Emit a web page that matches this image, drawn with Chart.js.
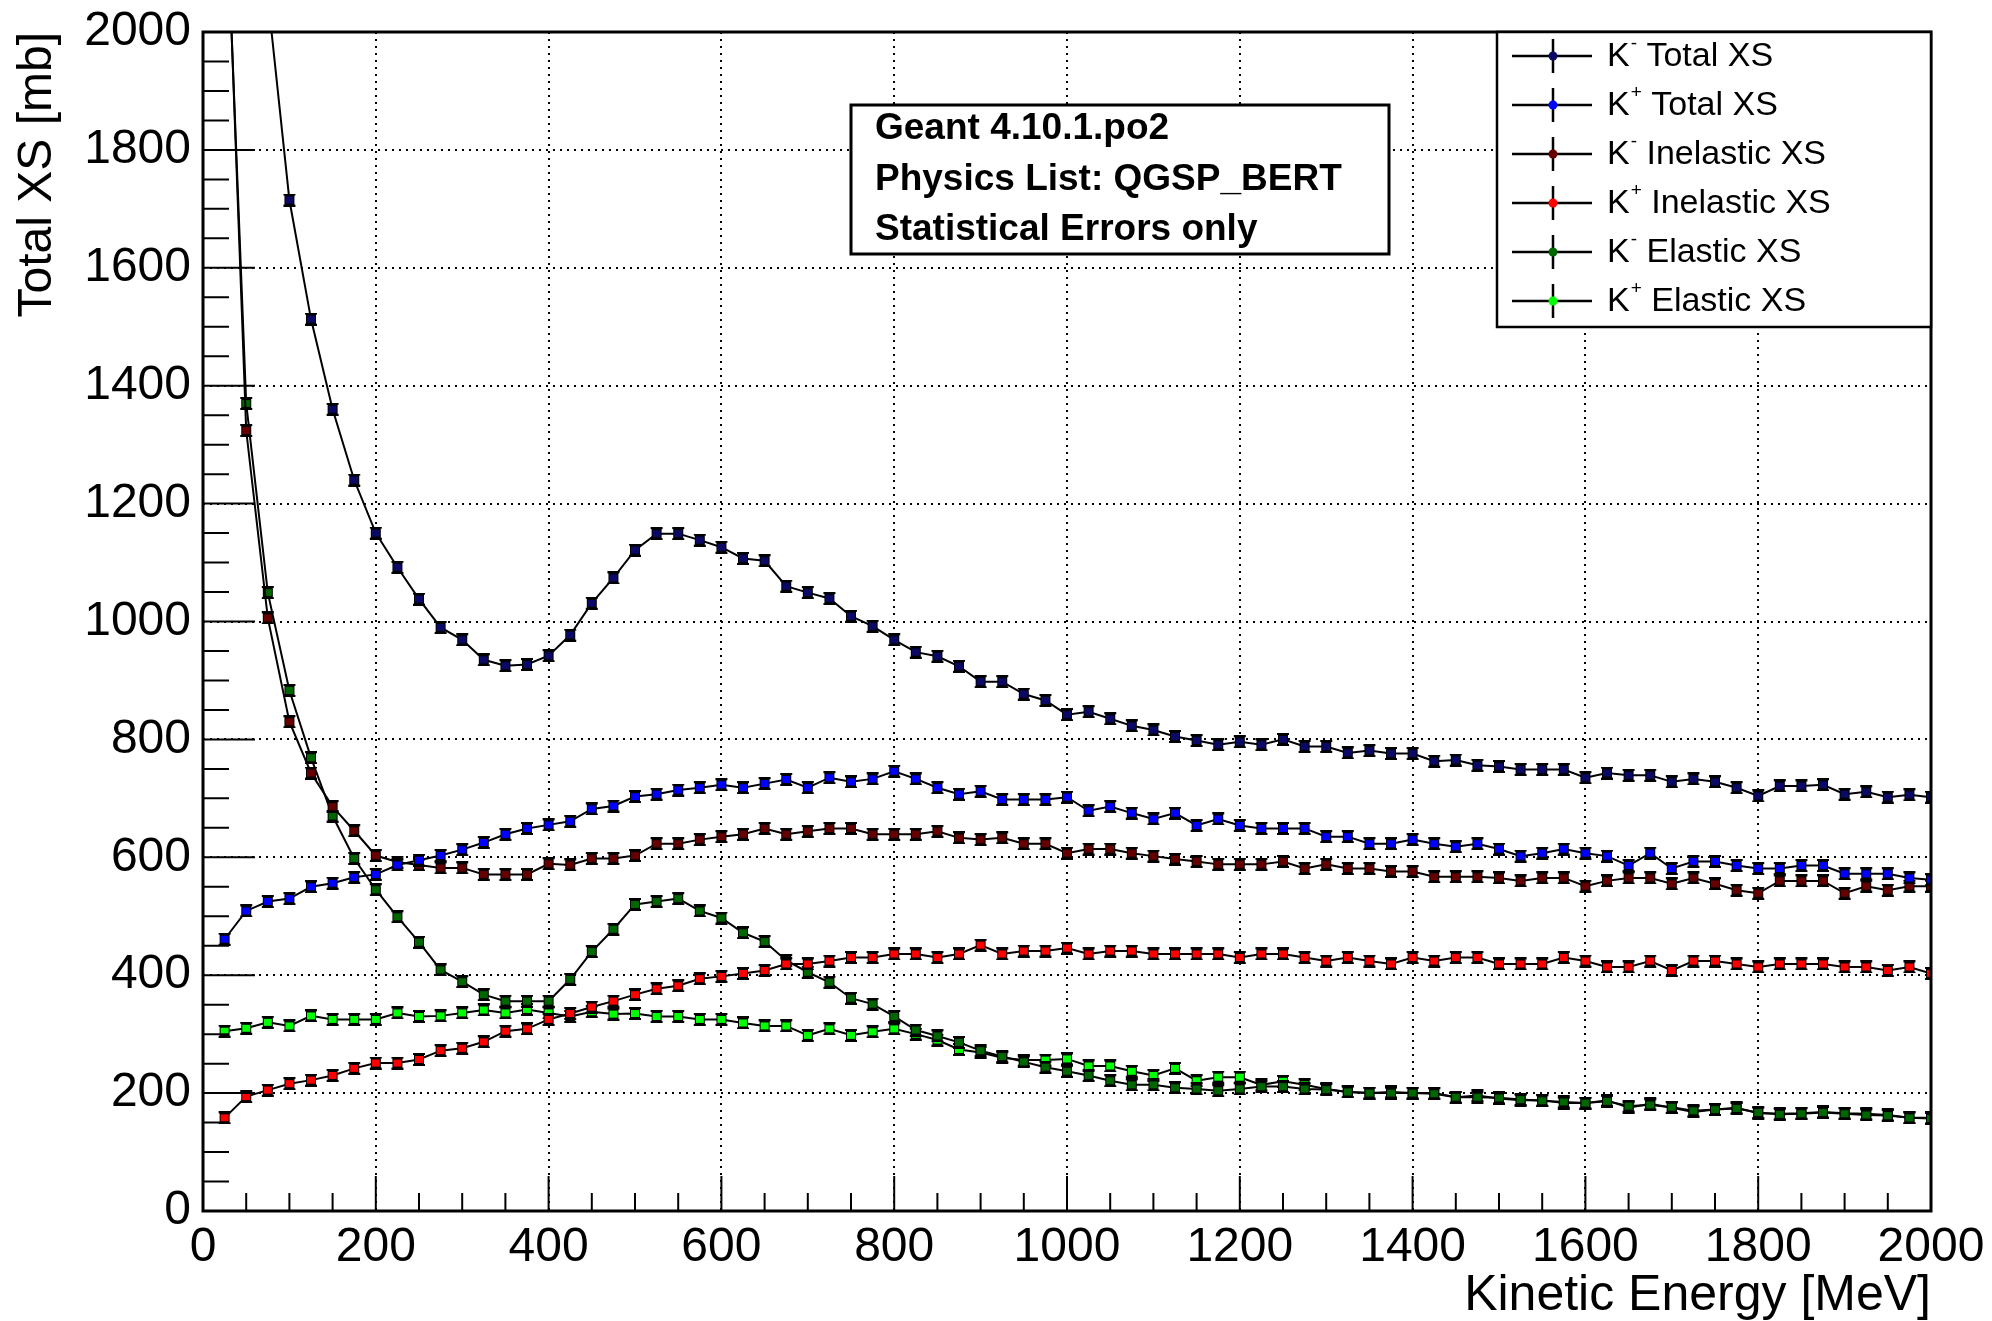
<!DOCTYPE html>
<html lang="en">
<head>
  <meta charset="UTF-8">
  <title>Kaon cross sections - Geant 4.10.1.p02</title>
  <script src="https://cdn.jsdelivr.net/npm/chart.js"></script>
  <style>
    body {
      margin: 0;
      padding: 0;
      background-color: #fff;
    }
    #xsChart {
      display: block;
    }
  </style>
</head>
<body>
  <canvas id="xsChart" width="1992" height="1321"></canvas>

  <script>
    // Kinetic energy bins [MeV]
    const energy = [
      25, 50, 75, 100, 125, 150, 175, 200, 225, 250,
      275, 300, 325, 350, 375, 400, 425, 450, 475, 500,
      525, 550, 575, 600, 625, 650, 675, 700, 725, 750,
      775, 800, 825, 850, 875, 900, 925, 950, 975, 1000,
      1025, 1050, 1075, 1100, 1125, 1150, 1175, 1200, 1225, 1250,
      1275, 1300, 1325, 1350, 1375, 1400, 1425, 1450, 1475, 1500,
      1525, 1550, 1575, 1600, 1625, 1650, 1675, 1700, 1725, 1750,
      1775, 1800, 1825, 1850, 1875, 1900, 1925, 1950, 1975, 2000
    ];

    // Cross sections [mb]
    const kmTotal = [
      3300, 2600, 2060, 1715, 1513, 1360, 1240, 1150, 1092, 1038,
      990, 969, 935, 925, 927, 942, 977, 1031, 1074, 1121,
      1149, 1149, 1138, 1126, 1107, 1103, 1060, 1049, 1039, 1009,
      992, 969, 948, 941, 924, 898, 898, 877, 866, 842,
      847, 835, 823, 816, 805, 798, 791, 796, 791, 800,
      788, 788, 777, 781, 776, 776, 763, 765, 756, 754,
      749, 749, 749, 735, 743, 739, 739, 728, 733, 728,
      718, 704, 721, 721, 723, 707, 711, 702, 706, 702
    ];
    const kpTotal = [
      461, 509, 525, 530, 550, 556, 566, 571, 587, 595,
      603, 613, 625, 639, 649, 655, 661, 682, 687, 703,
      707, 714, 718, 723, 718, 725, 732, 718, 735, 728,
      733, 746, 733, 718, 707, 712, 698, 698, 698, 702,
      679, 686, 675, 665, 675, 654, 665, 654, 649, 649,
      649, 635, 635, 623, 623, 630, 623, 618, 623, 614,
      602, 607, 614, 607, 602, 586, 607, 581, 593, 593,
      586, 581, 581, 586, 586, 572, 572, 572, 565, 562
    ];
    const kmInel = [
      2320, 1324, 1006, 830, 743, 686, 645, 603, 592, 587,
      582, 582, 571, 571, 571, 589, 587, 598, 598, 603,
      623, 623, 630, 635, 639, 649, 639, 644, 649, 649,
      639, 639, 639, 644, 633, 630, 633, 623, 623, 607,
      614, 614, 607, 602, 597, 593, 588, 588, 588, 593,
      581, 588, 581, 581, 576, 576, 567, 567, 567, 565,
      560, 565, 565, 551, 560, 565, 565, 555, 565, 555,
      544, 539, 560, 560, 560, 539, 551, 544, 551, 551
    ];
    const kpInel = [
      158, 194, 205, 216, 222, 230, 242, 251, 251, 257,
      272, 276, 287, 305, 309, 325, 335, 346, 356, 367,
      377, 382, 394, 398, 403, 408, 419, 419, 424, 430,
      430, 436, 436, 430, 436, 451, 436, 441, 441, 446,
      436, 441, 441, 436, 436, 436, 436, 430, 436, 436,
      430, 424, 430, 424, 419, 430, 424, 430, 430, 419,
      419, 419, 430, 424, 414, 414, 424, 408, 424, 424,
      419, 414, 419, 419, 419, 414, 414, 408, 414, 403
    ];
    const kmEl = [
      2300, 1370, 1049, 883, 769, 670, 598, 545, 499, 456,
      409, 389, 367, 356, 356, 356, 393, 440, 478, 520,
      525, 530, 509, 497, 472, 457, 425, 405, 388, 361,
      351, 330, 307, 297, 286, 272, 262, 253, 244, 237,
      230, 221, 214, 214, 209, 207, 204, 207, 211, 211,
      207, 206, 202, 200, 200, 200, 199, 193, 193, 192,
      189, 187, 185, 183, 186, 178, 180, 176, 170, 172,
      174, 167, 164, 165, 167, 165, 163, 162, 158, 157
    ];
    const kpEl = [
      305, 310, 320, 314, 331, 325, 325, 325, 336, 330,
      331, 336, 341, 336, 342, 336, 330, 338, 334, 335,
      330, 330, 325, 325, 319, 314, 314, 298, 309, 298,
      304, 309, 300, 290, 274, 269, 260, 256, 256, 258,
      246, 246, 237, 230, 242, 221, 227, 227, 214, 220,
      214, 207, 202, 200, 202, 200, 200, 193, 196, 191,
      188, 188, 183, 183, 188, 175, 182, 175, 168, 172,
      175, 166, 165, 166, 168, 166, 165, 163, 158, 158
    ];

    const seriesNames = ['K⁻ Total XS', 'K⁺ Total XS', 'K⁻ Inelastic XS', 'K⁺ Inelastic XS', 'K⁻ Elastic XS', 'K⁺ Elastic XS'];
    const seriesValues = [kmTotal, kpTotal, kmInel, kpInel, kmEl, kpEl];
    const seriesColors = ['#0a0a66', '#0000ff', '#660000', '#ff0000', '#006600', '#00ff00'];
    const infoLines = ['Geant 4.10.1.po2', 'Physics List: QGSP_BERT', 'Statistical Errors only'];

    const FONT = "'Liberation Sans', Arial, Helvetica, sans-serif";
    Chart.defaults.font.family = FONT;
    Chart.defaults.color = '#000';

    // square marker with small error-bar caps, ROOT style
    function makeMarker(color) {
      const c = document.createElement('canvas');
      c.width = 14;
      c.height = 13;
      const g = c.getContext('2d');
      g.fillStyle = '#000';
      g.fillRect(1, 0, 12, 2);
      g.fillRect(1, 11, 12, 2);
      g.fillRect(2, 2, 10, 9);
      g.fillStyle = color;
      g.fillRect(3, 3, 8, 7);
      return c;
    }

    const datasets = seriesNames.map((name, i) => ({
      label: name,
      data: energy.map((e, j) => ({ x: e, y: seriesValues[i][j] })),
      borderColor: '#000',
      borderWidth: 2,
      pointStyle: makeMarker(seriesColors[i]),
      pointRadius: 6,
      markerColor: seriesColors[i],
      tension: 0
    }));

    // inner ticks + frame, ROOT style
    const frameTicks = {
      id: 'frameTicks',
      afterDatasetsDraw(chart) {
        const { ctx, chartArea: a, scales: { x, y } } = chart;
        ctx.save();
        ctx.strokeStyle = '#000';
        ctx.lineWidth = 2;
        ctx.beginPath();
        y.ticks.forEach(t => {
          const py = y.getPixelForValue(t.value);
          const len = t.value % 200 === 0 ? 52 : 26;
          ctx.moveTo(a.left, py);
          ctx.lineTo(a.left + len, py);
        });
        x.ticks.forEach(t => {
          const px = x.getPixelForValue(t.value);
          const len = t.value % 200 === 0 ? 35 : 18;
          ctx.moveTo(px, a.bottom);
          ctx.lineTo(px, a.bottom - len);
        });
        ctx.stroke();
        ctx.lineWidth = 3;
        ctx.strokeRect(a.left, a.top, a.right - a.left, a.bottom - a.top);
        ctx.restore();
      }
    };

    // legend box and info text box
    const boxes = {
      id: 'boxes',
      afterDatasetsDraw(chart) {
        const { ctx, chartArea: a } = chart;
        ctx.save();

        // info box
        const bx = a.left + 648, by = a.top + 73, bw = 538, bh = 149;
        ctx.fillStyle = '#fff';
        ctx.fillRect(bx, by, bw, bh);
        ctx.strokeStyle = '#000';
        ctx.lineWidth = 3;
        ctx.strokeRect(bx, by, bw, bh);
        ctx.fillStyle = '#000';
        ctx.font = 'bold 37px ' + FONT;
        ctx.textBaseline = 'middle';
        infoLines.forEach((t, i) => ctx.fillText(t, bx + 24, by + 24 + i * 50.5));

        // legend
        const lw = 434, lh = 295;
        const lx = a.right - lw, ly = a.top;
        ctx.fillStyle = '#fff';
        ctx.fillRect(lx, ly, lw, lh);
        ctx.lineWidth = 2.5;
        ctx.strokeRect(lx, ly, lw, lh);
        chart.data.datasets.forEach((ds, i) => {
          const cy = ly + 24 + i * 49;
          const sx = lx + 56;
          ctx.strokeStyle = '#000';
          ctx.lineWidth = 2.5;
          ctx.beginPath();
          ctx.moveTo(lx + 15, cy);
          ctx.lineTo(lx + 95, cy);
          ctx.moveTo(sx, cy - 17);
          ctx.lineTo(sx, cy + 17);
          ctx.stroke();
          ctx.fillStyle = ds.markerColor;
          ctx.beginPath();
          ctx.arc(sx, cy, 4.5, 0, Math.PI * 2);
          ctx.fill();

          // "K" + superscript sign + rest
          const sign = ds.label.charAt(1) === '⁻' ? '-' : '+';
          const rest = ds.label.slice(2);
          ctx.fillStyle = '#000';
          ctx.textBaseline = 'middle';
          ctx.font = '34px ' + FONT;
          let tx = lx + 110;
          ctx.fillText('K', tx, cy + 1);
          tx += ctx.measureText('K').width + 1;
          ctx.font = '19px ' + FONT;
          ctx.fillText(sign, tx, cy - 12);
          tx += ctx.measureText(sign).width;
          ctx.font = '34px ' + FONT;
          ctx.fillText(rest, tx, cy + 1);
        });
        ctx.restore();
      }
    };

    const majorOnly = v => (v % 200 === 0 ? String(v) : '');
    const gridColor = c => (c.tick && c.tick.value % 200 === 0 ? '#000' : 'rgba(0,0,0,0)');

    new Chart(document.getElementById('xsChart'), {
      type: 'line',
      data: { datasets },
      options: {
        responsive: false,
        devicePixelRatio: 1,
        animation: false,
        layout: { padding: { top: 32, right: 61, left: 0, bottom: 0 } },
        plugins: {
          legend: { display: false },
          tooltip: { enabled: false }
        },
        scales: {
          x: {
            type: 'linear',
            min: 0,
            max: 2000,
            grid: { color: gridColor, lineWidth: 2, drawTicks: false },
            border: { display: false, dash: [2, 5] },
            ticks: {
              stepSize: 50,
              autoSkip: false,
              maxRotation: 0,
              padding: 8,
              font: { size: 48 },
              callback: majorOnly
            },
            title: {
              display: true,
              text: 'Kinetic Energy [MeV]',
              align: 'end',
              font: { size: 50, lineHeight: 1 },
              padding: { top: 0, bottom: 0 }
            },
            afterFit(scale) {
              scale.height = 110;
              scale.paddingLeft = 0;
              scale.paddingRight = 0;
            }
          },
          y: {
            type: 'linear',
            min: 0,
            max: 2000,
            grid: { color: gridColor, lineWidth: 2, drawTicks: false },
            border: { display: false, dash: [2, 5] },
            ticks: {
              stepSize: 50,
              autoSkip: false,
              padding: 12,
              font: { size: 48 },
              callback: majorOnly
            },
            title: {
              display: true,
              text: 'Total XS [mb]',
              align: 'end',
              font: { size: 48 },
              padding: { top: 9, bottom: 0 }
            },
            afterFit(scale) {
              scale.width = 203;
              scale.paddingTop = 0;
              scale.paddingBottom = 0;
            }
          }
        }
      },
      plugins: [frameTicks, boxes]
    });
  </script>
</body>
</html>
